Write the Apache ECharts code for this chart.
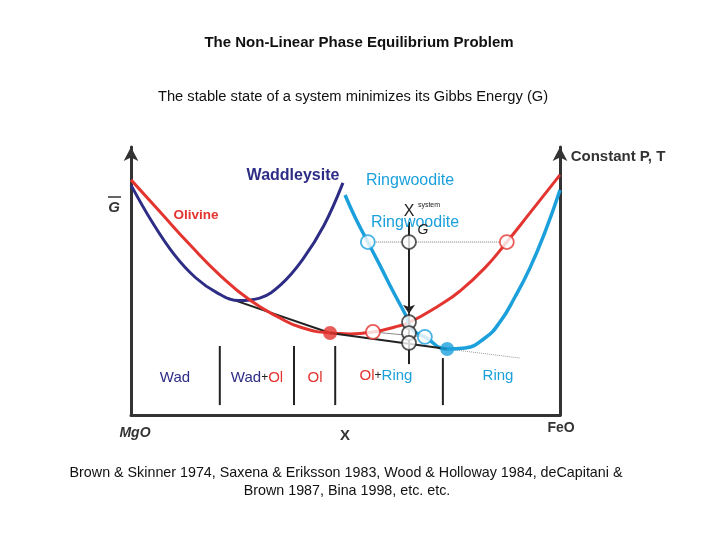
<!DOCTYPE html>
<html><head><meta charset="utf-8">
<script src="https://cdn.jsdelivr.net/npm/echarts@6/dist/echarts.min.js"></script>
<style>html,body{margin:0;padding:0;background:#fff}#c{width:720px;height:540px}</style>
</head><body><div id="c"></div>
<script>
// Composition X (0 = MgO, 100 = FeO) and molar Gibbs energy G (arbitrary units)
const wadX = [0, 5, 10, 15, 20, 25, 30, 35, 40, 45, 49.4];
const wadG = [83.6, 70.0, 58.5, 50.0, 44.5, 41.6, 42.5, 47.5, 56.5, 69.0, 84.4];
const olX = [0, 6.8, 13.8, 20.7, 27.7, 34.7, 39.4, 46.4, 51.0, 56.4, 61.5, 65.0, 72.0, 76.7, 82.5, 87.6, 93.0, 100];
const olG = [85.5, 73.8, 61.8, 50.9, 41.8, 35.3, 32.0, 29.8, 29.5, 30.2, 32.0, 33.8, 40.0, 45.1, 53.5, 62.9, 73.5, 87.3];
const ringX = [49.9, 52.2, 55.2, 58.0, 60.8, 63.9, 65.7, 68.5, 73.7, 77.9, 82.5, 86.0, 89.5, 93.0, 96.5, 100];
const ringG = [80.0, 72.0, 62.9, 54.5, 45.8, 36.7, 30.9, 28.4, 24.0, 24.4, 28.0, 33.8, 42.9, 53.5, 66.5, 81.8];
// common tangents: [x1, G1, x2, G2]
const tangentWadOl = [22.5, 42.6, 46.4, 29.8];
const tangentOlRing = [46.4, 29.8, 73.7, 24.0];
const tangentExt = [73.7, 24.0, 90.7, 20.7];
const metaTangent = [56.4, 30.2, 68.5, 28.4];
// system composition and reference G level
const xSystem = 64.8;
const gSystemTop = 70.2, gArrowTip = 36.8, gSystemBottom = 18.5;
const gLevel = 62.9;
const gLevelFrom = 55.2, gLevelTo = 87.6;
// phase boundaries
const boundaryX = [20.7, 38.0, 47.6, 72.7];
const boundaryTop = [25.1, 25.1, 25.1, 20.7];
const boundaryBottom = 3.6;
// points
const openPts = [[55.2, 62.9, 'ring'], [64.8, 62.9, 'sys'], [87.6, 62.9, 'ol'], [56.4, 30.2, 'ol'],
                 [64.8, 33.8, 'sys'], [64.8, 29.8, 'sys'], [64.8, 26.2, 'sys'], [68.5, 28.4, 'ring']];
const filledPts = [[46.4, 29.8, 'ol'], [73.7, 24.0, 'ring']];

const C = {wad: '#2e2d86', ol: '#e3342f', ring: '#1ba0dc', sys: '#2b2b2b', ink: '#2b2b2b'};
const zip = (a, b) => a.map((v, i) => [v, b[i]]);
const seg = t => [[t[0], t[1]], [t[2], t[3]]];

const series = [
  {type: 'line', data: zip(wadX, wadG), smooth: 0.4, showSymbol: false, lineStyle: {color: C.wad, width: 3}, z: 3},
  {type: 'line', data: zip(olX, olG), smooth: true, showSymbol: false, lineStyle: {color: C.ol, width: 3}, z: 3},
  {type: 'line', data: zip(ringX, ringG), smooth: true, showSymbol: false, lineStyle: {color: C.ring, width: 3.5}, z: 3},
  {type: 'line', data: seg(tangentWadOl), showSymbol: false, lineStyle: {color: '#222', width: 2}, z: 2},
  {type: 'line', data: seg(tangentOlRing), showSymbol: false, lineStyle: {color: '#222', width: 2}, z: 4},
  {type: 'line', data: seg(tangentExt), showSymbol: false, lineStyle: {color: '#999', width: 1, type: 'dotted'}, z: 2},
  {type: 'line', data: seg(metaTangent), showSymbol: false, lineStyle: {color: '#888', width: 1}, z: 2},
  {type: 'line', data: [[gLevelFrom, gLevel], [gLevelTo, gLevel]], showSymbol: false, lineStyle: {color: '#777', width: 1, type: 'dotted'}, z: 2},
  {type: 'lines', coordinateSystem: 'cartesian2d', z: 4,
   data: [{coords: [[xSystem, gSystemTop], [xSystem, gArrowTip]]}],
   symbol: ['none', 'arrow'], symbolSize: 9, lineStyle: {color: '#222', width: 2, opacity: 1}},
  {type: 'line', data: [[xSystem, gArrowTip], [xSystem, gSystemBottom]], showSymbol: false, lineStyle: {color: '#222', width: 2}, z: 4},
  ...boundaryX.map((x, i) => ({type: 'line', data: [[x, boundaryTop[i]], [x, boundaryBottom]], showSymbol: false,
    lineStyle: {color: '#222', width: 2}, z: 2})),
  {type: 'scatter', data: openPts.map(p => ({value: [p[0], p[1]], itemStyle: {color: '#fff', borderColor: C[p[2]], borderWidth: 1.8}})),
   symbolSize: 14, z: 6},
  {type: 'scatter', data: filledPts.map(p => ({value: [p[0], p[1]], itemStyle: {color: C[p[2]]}})),
   symbolSize: 14, z: 7}
];

const F = 'Liberation Sans';
const txt = (x, y, t, style) => ({type: 'text', x, y, z: 20,
  style: Object.assign({text: t, fontFamily: F, fontSize: 14, fill: '#111', textAlign: 'center', textVerticalAlign: 'middle'}, style)});
const rich = (x, y, parts, size) => ({type: 'text', x, y, z: 20, style: {
  text: parts.map(p => '{' + p[1] + '|' + p[0] + '}').join(''), textAlign: 'center', textVerticalAlign: 'middle',
  rich: {wad: {fill: C.wad, fontSize: size, fontFamily: F}, ol: {fill: C.ol, fontSize: size, fontFamily: F},
         ring: {fill: C.ring, fontSize: size, fontFamily: F}, k: {fill: '#222', fontSize: size - 3, fontFamily: F}}}});

const graphic = [
  txt(359, 43, 'The Non-Linear Phase Equilibrium Problem', {fontSize: 15, fontWeight: 'bold'}),
  txt(353, 97, 'The stable state of a system minimizes its Gibbs Energy (G)', {fontSize: 14.7}),
  txt(346, 473, 'Brown & Skinner 1974, Saxena & Eriksson 1983, Wood & Holloway 1984, deCapitani &', {fontSize: 14.3}),
  txt(347, 491, 'Brown 1987, Bina 1998, etc. etc.', {fontSize: 14.3}),
  txt(114, 208, 'G', {fontSize: 15, fontWeight: 'bold', fontStyle: 'italic', fill: '#333'}),
  {type: 'line', z: 20, shape: {x1: 108, y1: 197, x2: 121, y2: 197}, style: {stroke: '#333', lineWidth: 1.5}},
  txt(293, 176, 'Waddleysite', {fontSize: 16, fontWeight: 'bold', fill: C.wad}),
  txt(196, 215, 'Olivine', {fontSize: 13.5, fontWeight: 'bold', fill: C.ol}),
  txt(410, 181, 'Ringwoodite', {fontSize: 16, fill: C.ring}),
  txt(409, 212, 'X', {fontSize: 16, fill: '#222'}),
  txt(429, 205, 'system', {fontSize: 7, fill: '#222'}),
  txt(415, 223, 'Ringwoodite', {fontSize: 16, fill: C.ring}),
  txt(423, 230, 'G', {fontSize: 14, fontStyle: 'italic', fill: '#222'}),
  txt(618, 157, 'Constant P, T', {fontSize: 15, fontWeight: 'bold', fill: '#333'}),
  txt(135, 433, 'MgO', {fontSize: 14, fontWeight: 'bold', fontStyle: 'italic', fill: '#333'}),
  txt(345, 436, 'X', {fontSize: 15, fontWeight: 'bold', fill: '#333'}),
  txt(561, 428, 'FeO', {fontSize: 14, fontWeight: 'bold', fill: '#333'}),
  txt(175, 378, 'Wad', {fill: C.wad, fontSize: 15}),
  rich(257, 378, [['Wad', 'wad'], ['+', 'k'], ['Ol', 'ol']], 15),
  txt(315, 378, 'Ol', {fill: C.ol, fontSize: 15}),
  rich(386, 376, [['Ol', 'ol'], ['+', 'k'], ['Ring', 'ring']], 15),
  txt(498, 376, 'Ring', {fill: C.ring, fontSize: 15})
];

const axisBase = {type: 'value', min: 0, max: 97.5, axisTick: {show: false}, axisLabel: {show: false}, splitLine: {show: false}};
const chart = echarts.init(document.getElementById('c'));
chart.setOption({
  animation: false,
  grid: {left: 131, right: 160, top: 146.875, bottom: 125},
  xAxis: {type: 'value', min: 0, max: 100, axisTick: {show: false}, axisLabel: {show: false}, splitLine: {show: false},
          axisLine: {show: true, onZero: false, lineStyle: {color: '#333', width: 3}}},
  yAxis: [
    Object.assign({}, axisBase, {position: 'left', axisLine: {show: true, onZero: false, symbol: ['none', 'arrow'], symbolSize: [11, 14], lineStyle: {color: '#333', width: 3}}}),
    Object.assign({}, axisBase, {position: 'right', axisLine: {show: true, onZero: false, symbol: ['none', 'arrow'], symbolSize: [11, 14], lineStyle: {color: '#333', width: 3}}})
  ],
  series,
  graphic
});
</script></body></html>
